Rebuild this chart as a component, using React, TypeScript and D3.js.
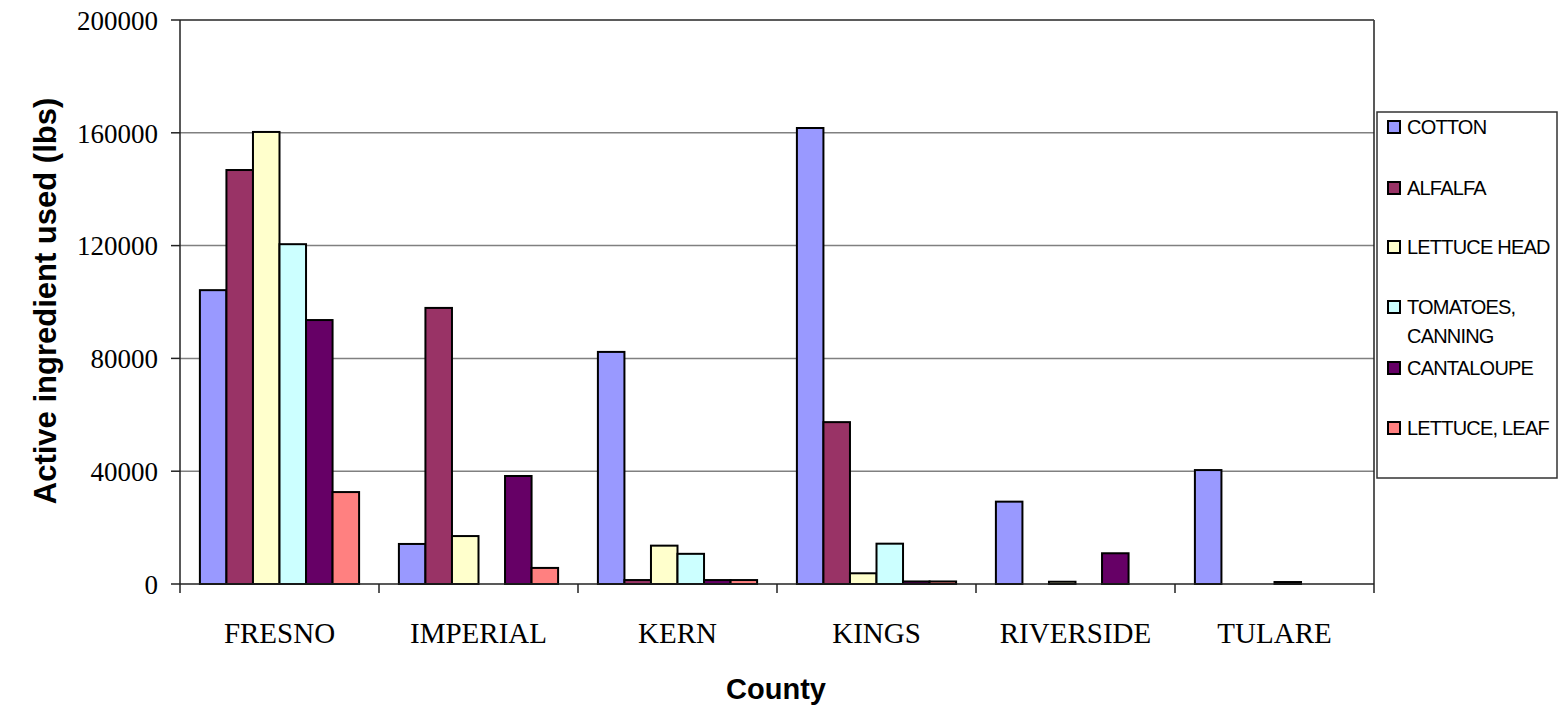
import React from "react";
import * as d3 from "d3";

const counties = ["FRESNO", "IMPERIAL", "KERN", "KINGS", "RIVERSIDE", "TULARE"];
const seriesNames = ["COTTON", "ALFALFA", "LETTUCE HEAD", "TOMATOES, CANNING", "CANTALOUPE", "LETTUCE, LEAF"];
const cotton = [104200, 14200, 82300, 161700, 29200, 40400];
const alfalfa = [146800, 97900, 1400, 57400, 0, 0];
const lettuceHead = [160300, 17000, 13600, 3800, 800, 0];
const tomatoes = [120500, 0, 10700, 14300, 0, 700];
const cantaloupe = [93600, 38300, 1400, 900, 10900, 0];
const lettuceLeaf = [32600, 5700, 1400, 900, 0, 0];
const yTicks = [0, 40000, 80000, 120000, 160000, 200000];

const seriesValues = [cotton, alfalfa, lettuceHead, tomatoes, cantaloupe, lettuceLeaf];
const colors = ["#9999FF", "#993366", "#FFFFCC", "#CCFFFF", "#660066", "#FF8080"];

export default function App() {
  const left = 180, right = 1374, top = 20, bottom = 584;
  const x0 = d3.scaleBand<string>().domain(counties).range([left, right]).paddingInner(0).paddingOuter(0);
  const bw = x0.bandwidth();
  const barW = bw / 7.5;
  const y = d3.scaleLinear().domain([0, 200000]).range([bottom, top]);

  const legendY = [127, 188, 247, 307, 368, 428];

  return (
    <svg width={1562} height={709} style={{ position: "absolute", left: 0, top: 0, background: "#fff" }}>
      {yTicks.filter(t => t > 0).map(t => (
        <line key={"g" + t} x1={left} x2={right} y1={y(t)} y2={y(t)} stroke="#808080" strokeWidth={1.5} />
      ))}
      <line x1={right} x2={right} y1={top} y2={bottom + 9} stroke="#222" strokeWidth={1.5} />
      <line x1={left} x2={right} y1={top} y2={top} stroke="#444" strokeWidth={1.5} />
      {counties.map((c, ci) =>
        seriesValues.map((vals, si) => {
          const v = vals[ci];
          if (v <= 0) return null;
          const bx = (x0(c) as number) + barW * 0.75 + si * barW;
          return (
            <rect key={c + si} x={bx} y={y(v)} width={barW} height={bottom - y(v)}
              fill={colors[si]} stroke="#000" strokeWidth={2} />
          );
        })
      )}
      <line x1={left} x2={left} y1={top} y2={bottom} stroke="#222" strokeWidth={1.5} />
      <line x1={left} x2={right} y1={bottom} y2={bottom} stroke="#222" strokeWidth={1.5} />
      {yTicks.map(t => (
        <g key={"t" + t}>
          <line x1={left - 9} x2={left} y1={y(t)} y2={y(t)} stroke="#222" strokeWidth={1.5} />
          <text x={158} y={y(t)} dy="0.36em" textAnchor="end" fontFamily="Liberation Serif, Times New Roman, serif" fontSize={27}>{t}</text>
        </g>
      ))}
      {counties.map((c, i) => (
        <line key={"xt" + i} x1={left + i * bw} x2={left + i * bw} y1={bottom} y2={bottom + 9} stroke="#222" strokeWidth={1.5} />
      ))}
      {counties.map(c => (
        <text key={"xl" + c} x={(x0(c) as number) + bw / 2} y={643} textAnchor="middle" fontFamily="Liberation Serif, Times New Roman, serif" fontSize={29}>{c}</text>
      ))}
      <text x={776} y={699} textAnchor="middle" fontFamily="Liberation Sans, Arial, sans-serif" fontWeight="bold" fontSize={29}>County</text>
      <text transform="translate(56,301) rotate(-90)" textAnchor="middle" fontFamily="Liberation Sans, Arial, sans-serif" fontWeight="bold" fontSize={31}>Active ingredient used (lbs)</text>
      <rect x={1377} y={112} width={180} height={366} fill="#fff" stroke="#333" strokeWidth={1.5} />
      {seriesNames.map((n, i) => {
        const cy = legendY[i];
        const lines = n === "TOMATOES, CANNING" ? ["TOMATOES,", "CANNING"] : [n];
        return (
          <g key={"lg" + i}>
            <rect x={1388} y={cy - 6} width={12} height={12} fill={colors[i]} stroke="#000" strokeWidth={2} />
            {lines.map((ln, li) => (
              <text key={li} x={1407} y={cy + li * 29} dy="0.36em" fontFamily="Liberation Sans, Arial, sans-serif" fontSize={20} letterSpacing={-0.8}>{ln}</text>
            ))}
          </g>
        );
      })}
    </svg>
  );
}
